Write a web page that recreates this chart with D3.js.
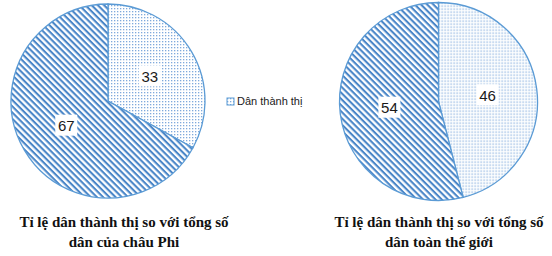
<!DOCTYPE html>
<html>
<head>
<meta charset="utf-8">
<script src="https://cdn.jsdelivr.net/npm/d3@7"></script>
<style>
  html, body { margin: 0; padding: 0; background: #fff; }
</style>
</head>
<body>
<script>
// data
const categories = ["Dân thành thị", "Dân nông thôn"];
const africaValues = [33, 67];
const worldValues = [46, 54];
const chartTitles = [
  ["Tỉ lệ dân thành thị so với tổng số", "dân của châu Phi"],
  ["Tỉ lệ dân thành thị so với tổng số", "dân toàn thế giới"],
];
const legendItems = ["Dân thành thị"];

const width = 552, height = 256;
const stroke = "#5b9bd5";

const svg = d3.select("body").append("svg")
  .attr("width", width)
  .attr("height", height);

const defs = svg.append("defs");

// dotted fill for urban slice
const dots = defs.append("pattern")
  .attr("id", "dots")
  .attr("patternUnits", "userSpaceOnUse")
  .attr("width", 3)
  .attr("height", 3);
dots.append("rect").attr("width", 3).attr("height", 3).attr("fill", "#fff");
dots.append("rect").attr("width", 1.3).attr("height", 1.3).attr("fill", "#7fa9dc");

// diagonal hatch for the rest
const hatch = defs.append("pattern")
  .attr("id", "hatch")
  .attr("patternUnits", "userSpaceOnUse")
  .attr("width", 4.4)
  .attr("height", 4.4)
  .attr("patternTransform", "rotate(45)");
hatch.append("rect").attr("width", 4.4).attr("height", 4.4).attr("fill", "#fff");
hatch.append("rect").attr("width", 4.4).attr("height", 2.1).attr("fill", "#4a86c8");

const fills = d3.scaleOrdinal(categories, ["url(#dots)", "url(#hatch)"]);

const pie = d3.pie().sort(null).value((d) => d);

function drawPie(values, cx, cy, r, titleLines, titleX) {
  const g = svg.append("g").attr("transform", `translate(${cx},${cy})`);
  const arc = d3.arc().innerRadius(0).outerRadius(r);
  const labelArc = d3.arc().innerRadius(r * 0.5).outerRadius(r * 0.5);
  const arcs = pie(values);

  g.selectAll("path")
    .data(arcs)
    .join("path")
    .attr("d", arc)
    .attr("fill", (d, i) => fills(categories[i]))
    .attr("stroke", stroke)
    .attr("stroke-width", 1.3);

  // value labels on a white box
  const lab = g.selectAll("g.lab")
    .data(arcs)
    .join("g")
    .attr("class", "lab")
    .attr("transform", (d) => `translate(${labelArc.centroid(d)})`);
  lab.append("rect")
    .attr("x", -11).attr("y", -11)
    .attr("width", 22).attr("height", 21)
    .attr("fill", "#fff");
  lab.append("text")
    .attr("text-anchor", "middle")
    .attr("dy", "0.36em")
    .attr("font-family", "Liberation Sans, sans-serif")
    .attr("font-size", 15)
    .attr("fill", "#1a1a1a")
    .text((d) => d.data);

  svg.append("text")
    .attr("y", 227)
    .attr("text-anchor", "middle")
    .attr("font-family", "Liberation Serif, serif")
    .attr("font-weight", "bold")
    .attr("font-size", 15)
    .attr("fill", "#111")
    .selectAll("tspan")
    .data(titleLines)
    .join("tspan")
    .attr("x", titleX)
    .attr("dy", (d, i) => (i ? 20 : 0))
    .text((d) => d);
}

drawPie(africaValues, 108, 101, 97, chartTitles[0], 124);
drawPie(worldValues, 438.5, 101.5, 99, chartTitles[1], 439);

// legend
const legend = svg.append("g").attr("transform", "translate(227,98)");
legend.selectAll("rect")
  .data(legendItems)
  .join("rect")
  .attr("width", 7).attr("height", 7)
  .attr("fill", (d) => fills(d))
  .attr("stroke", stroke)
  .attr("stroke-width", 1);
legend.selectAll("text")
  .data(legendItems)
  .join("text")
  .attr("x", 10)
  .attr("y", 7)
  .attr("font-family", "Liberation Sans, sans-serif")
  .attr("font-size", 11)
  .attr("fill", "#222")
  .text((d) => d);
</script>
</body>
</html>
